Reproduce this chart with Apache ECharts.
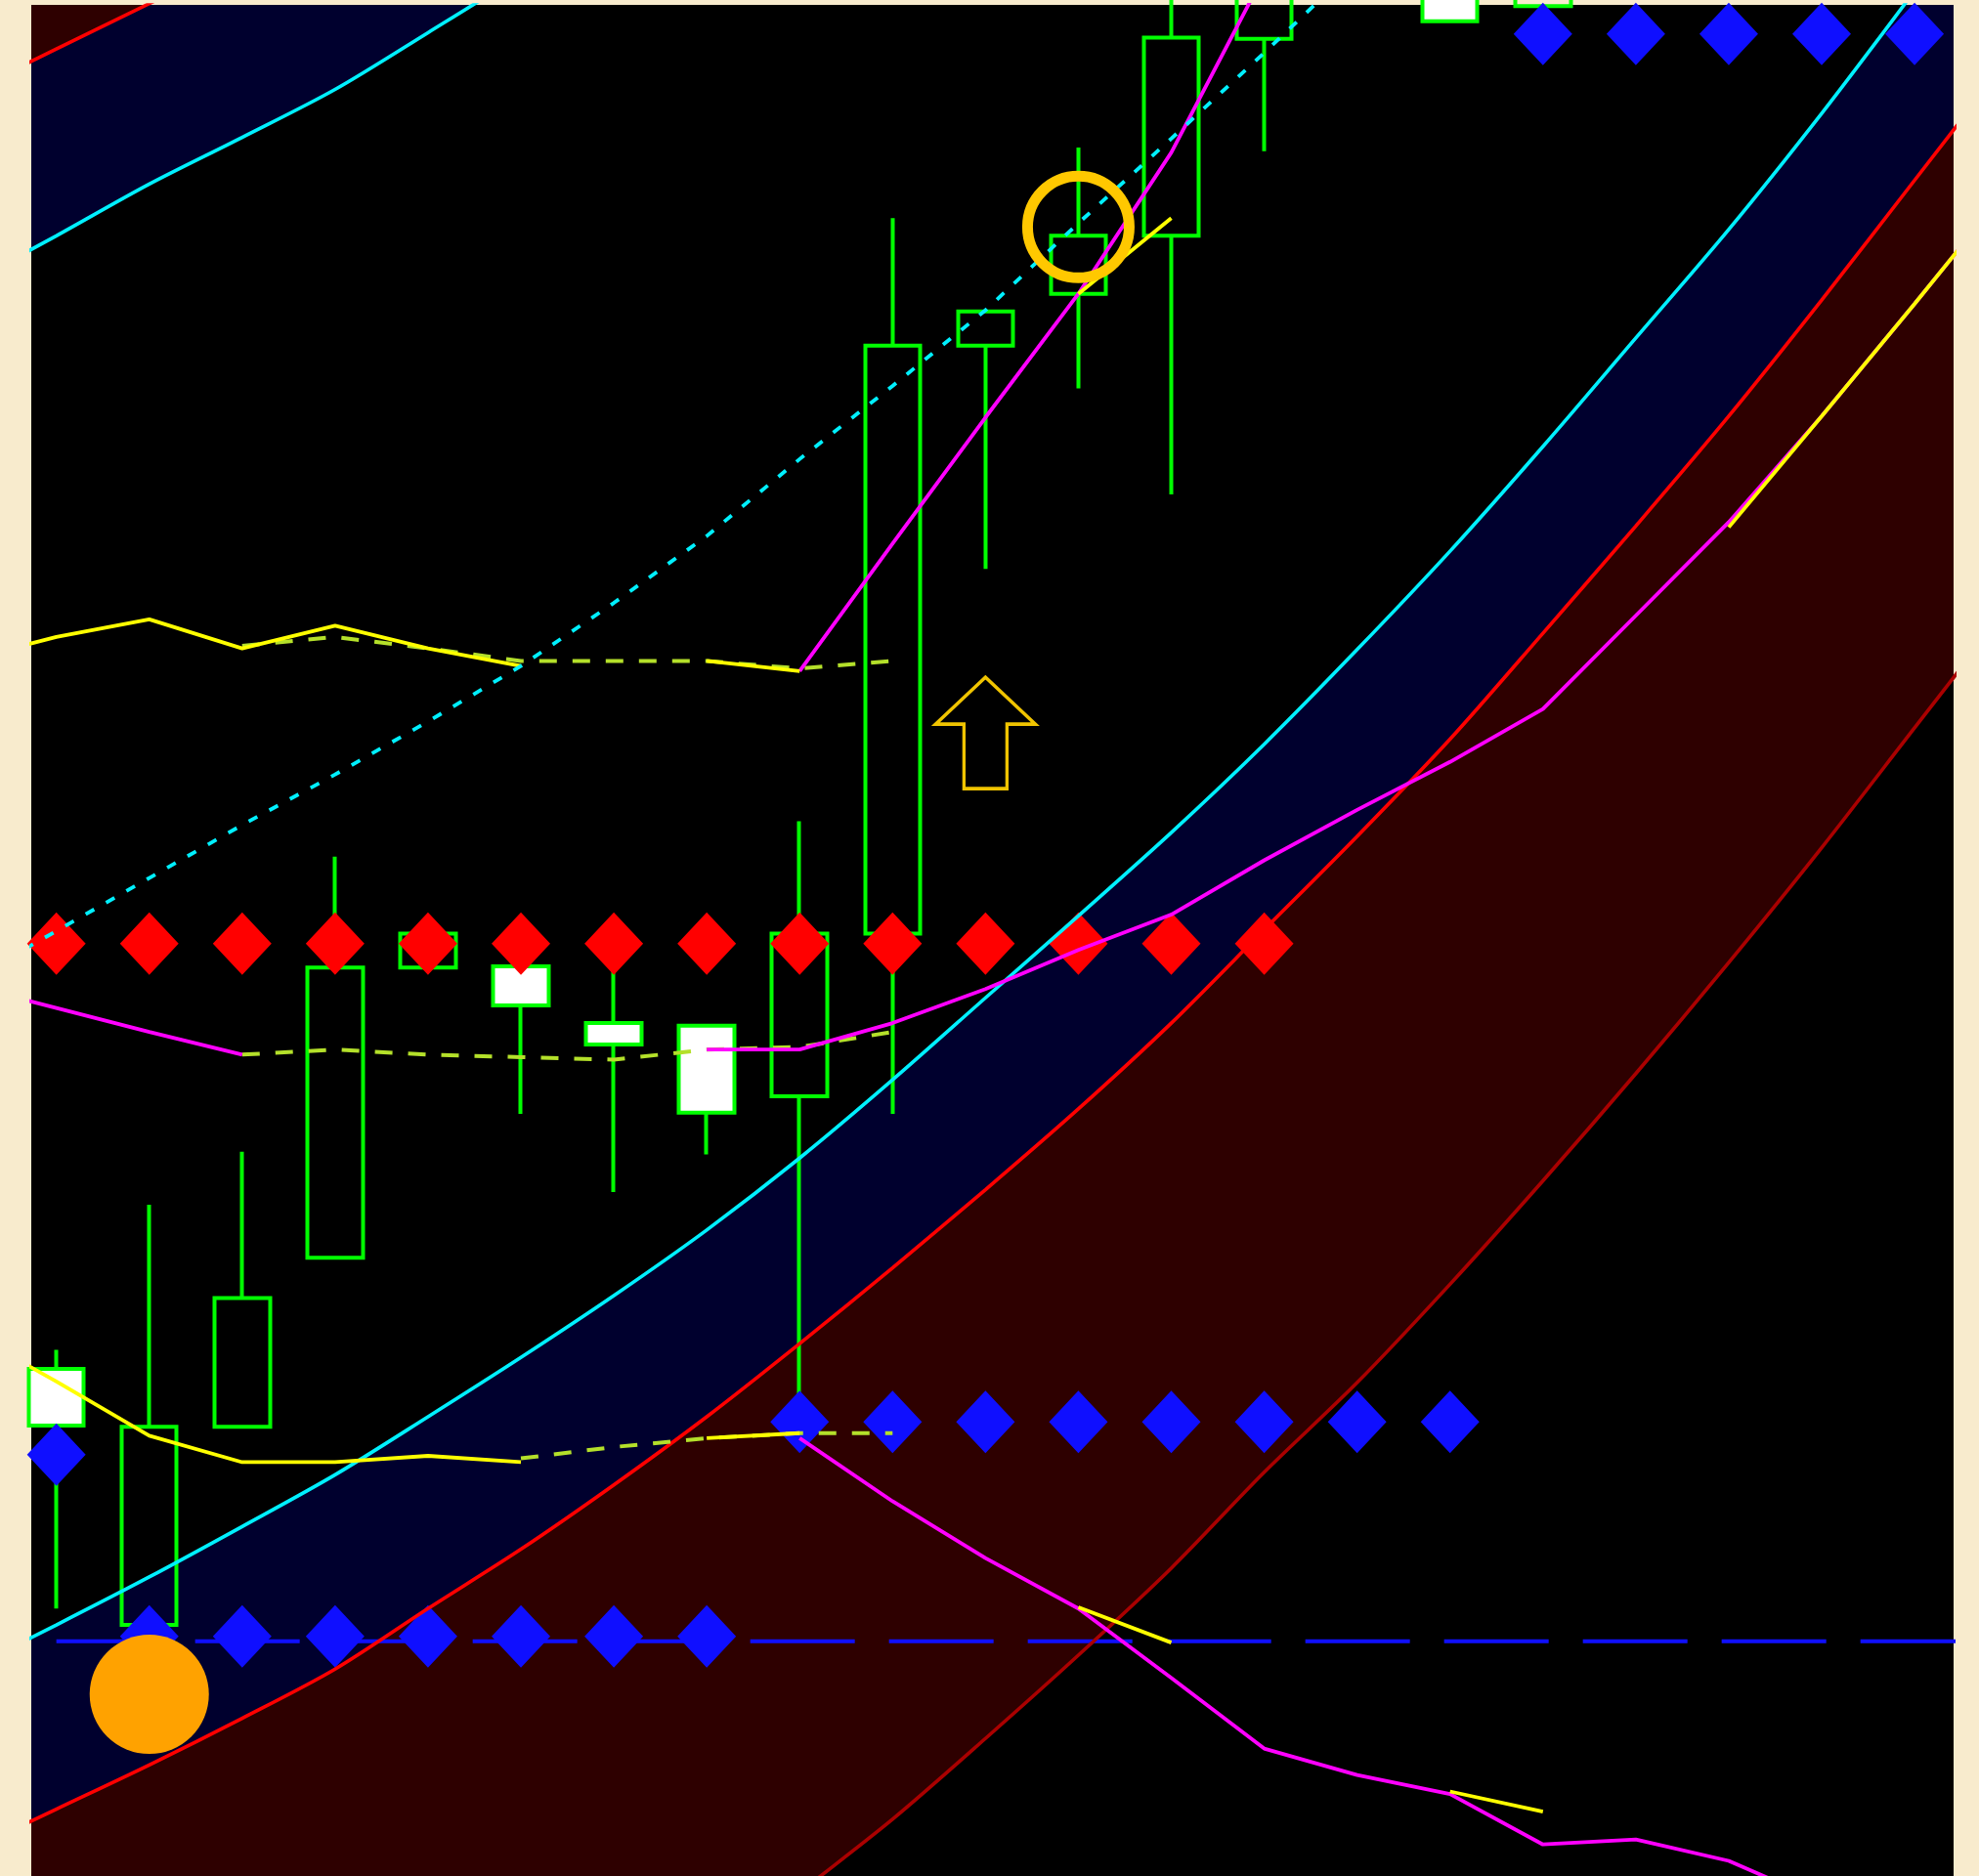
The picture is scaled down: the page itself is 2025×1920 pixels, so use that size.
<!DOCTYPE html>
<html>
<head>
<meta charset="utf-8">
<title>chart</title>
<script src="https://cdn.jsdelivr.net/npm/echarts@6/dist/echarts.min.js"></script>
<style>
  html, body { margin: 0; padding: 0; background: #f8ebcd; }
  #chart { width: 2025px; height: 1920px; }
</style>
</head>
<body>
<div id="chart"></div>
<script>
// 柱序号 (bar -1 and 21 only extend the lines past the plot edges)
var bars = [-1, 0, 1, 2, 3, 4, 5, 6, 7, 8, 9, 10, 11, 12, 13, 14, 15, 16, 17, 18, 19, 20, 21];

// K线 [bar, open, close, low, high]
var candles = [
  [0, 402, 357, 212, 417],
  [1, 199, 356, 199, 532],
  [2, 356, 458, 356, 574],
  [3, 490, 720, 490, 808],
  [4, 720, 747, 720, 760],
  [5, 721, 690, 604, 721],
  [6, 676, 659, 542, 720],
  [7, 674, 605, 572, 674],
  [8, 618, 747, 377, 836],
  [9, 747, 1213, 604, 1314],
  [10, 1213, 1240, 1036, 1240],
  [11, 1254, 1300, 1179, 1370],
  [12, 1300, 1457, 1095, 1507],
  [13, 1456, 1547, 1367, 1600],
  [14, 1560, 1620, 1550, 1660],
  [15, 1560, 1470, 1470, 1580],
  [16, 1482, 1540, 1482, 1560]
];

// 通道线
var cyanHigh = [1260, 1300, 1341, 1378, 1416, 1461, 1507, 1557, 1612, null, null, null, null, null, null, null, null, null, null, null, null, null, null];
var redHigh = [1412, 1448, 1484, 1520, 1557, null, null, null, null, null, null, null, null, null, null, null, null, null, null, null, null, null, null];
var cyanLow = [162, 199, 237, 277, 318, 364, 411, 460, 512, 569, 631, 696, 761, 827, 897, 972, 1050, 1133, 1219, 1305, 1397, 1494, 1592];
var redMid = [18, 53, 88, 125, 164, 212, 259, 310, 364, 422, 482, 544, 608, 676, 750, 824, 901, 985, 1070, 1157, 1249, 1344, 1439];
var darkRedLow = [-513, -458, -403, -348, -293, -238, -183, -128, -72, -13, 45, 109, 175, 244, 320, 391, 469, 551, 636, 724, 815, 910, 1005];
var cyanDots = [707, 749, 791, 833, 873, 915, 959, 1009, 1062, 1123, 1181, 1241, 1310, 1377, 1445, 1515, 1587, null, null, null, null, null, null];

// 止损线
var yellowHigh = [963, 982, 996, 973, 991, 973, 959, null, 963, 955, null, null, 1254, 1314, null, null, null, null, null, null, null, null, null];
var gyHigh = [null, null, null, 975, 982, 973, 963, 963, 963, 957, 963, null, null, null, null, null, null, null, null, null, null, null, null];
var magentaHigh = [null, null, null, null, null, null, null, null, null, 955, 1056, 1156, 1254, 1366, 1507, 1650, null, null, null, null, null, null, null];
var magentaMid = [707, 688, 669, 651, null, null, null, null, 655, 655, 676, 703, 734, 762, 805, 845, 883, 925, 999, 1073, 1157, 1246, 1337];
var gyMid = [null, null, null, 651, 655, 651, 649, 647, 655, 657, 669, null, null, null, null, null, null, null, null, null, null, null, null];
var yellowMid = [null, null, null, null, null, null, null, null, null, null, null, null, null, null, null, null, null, null, null, 1069, 1157, 1246, 1337];
var yellowLow = [433, 392, 349, 328, 328, 333, 328, null, 347, 351, null, null, 213, 185, null, null, 67, 51, null, null, null, null, null];
var gyLow = [null, null, null, null, null, null, 331, 340, 347, 351, 351, null, null, null, null, null, null, null, null, null, null, null, null];
var magentaLow = [null, null, null, null, null, null, null, null, null, 347, 297, 252, 212, 157, 101, 80, 65, 25, 29, 12, -20, -43, -60];

// 菱形信号
var redDiamondBars = [0, 1, 2, 3, 4, 5, 6, 7, 8, 9, 10, 11, 12, 13];
var redDiamondVals = [739, 739, 739, 739, 739, 739, 739, 739, 739, 739, 739, 739, 739, 739];
var blueDiamondBars = [0, 1, 2, 3, 4, 5, 6, 7, 8, 9, 10, 11, 12, 13, 14, 15, 16, 17, 18, 19, 20];
var blueDiamondVals = [334, 190, 190, 190, 190, 190, 190, 190, 360, 360, 360, 360, 360, 360, 360, 360, 1460, 1460, 1460, 1460, 1460];
var stopLevel = 186;

// 其它标记
var orangeDot = [1, 144];
var goldRing = [11, 1307];
var upArrow = [10, 906];

function pairs (vals) {
  var out = [];
  for (let i = 0; i < bars.length; i++) {
    out.push([bars[i], vals[i] == null ? '-' : vals[i]]);
  }
  return out;
}

function zip (xs, ys) {
  var out = [];
  for (let i = 0; i < xs.length; i++) {
    out.push([xs[i], ys[i]]);
  }
  return out;
}

// 背景填充
function bandSeries (vals, color, origin) {
  return {
    type: 'line', z: 1, silent: true, symbol: 'none', smooth: 0.3, data: pairs(vals),
    lineStyle: {width: 0, opacity: 0},
    areaStyle: {color: color, opacity: 1, origin: origin}
  };
}

function lineSeries (vals, color, width, dash, smooth) {
  return {
    type: 'line', z: 4, silent: true, symbol: 'none', smooth: smooth || false, data: pairs(vals),
    lineStyle: {color: color, width: width, type: dash || 'solid', cap: 'butt'}
  };
}

var CYAN = '#00f0ff';
var YELLOW = '#ffff00';
var MAGENTA = '#ff00ff';
var GREENYELLOW = '#b4e02a';

var option = {
  backgroundColor: '#f8ebcd',
  animation: false,
  grid: {left: 32, right: 26, top: 5, bottom: 0, show: true, backgroundColor: '#000000', borderWidth: 0},
  xAxis: {type: 'value', min: -0.27, max: 20.42, show: false},
  yAxis: {type: 'value', min: 0, max: 1483, show: false},
  series: [
    bandSeries(cyanHigh, '#00002e', 'end'),
    bandSeries(redHigh, '#2e0000', 'end'),
    bandSeries(cyanLow, '#00002e', 'start'),
    bandSeries(redMid, '#2e0000', 'start'),
    bandSeries(darkRedLow, '#000000', 'start'),
    {
      type: 'candlestick', z: 2, silent: true, barWidth: 57,
      data: candles,
      itemStyle: {color: 'transparent', color0: '#ffffff', borderColor: '#00ff00', borderColor0: '#00ff00', borderWidth: 4}
    },
    {
      type: 'scatter', z: 3, silent: true, symbol: 'diamond', symbolSize: [60, 64],
      data: zip(redDiamondBars, redDiamondVals),
      itemStyle: {color: '#ff0000', opacity: 1}
    },
    {
      type: 'scatter', z: 3, silent: true, symbol: 'diamond', symbolSize: [60, 64],
      data: zip(blueDiamondBars, blueDiamondVals),
      itemStyle: {color: '#0f0fff', opacity: 1}
    },
    {
      type: 'line', z: 3, silent: true, symbol: 'none',
      data: [[0, stopLevel], [21, stopLevel]],
      lineStyle: {color: '#0f0fff', width: 4, type: [107, 35], cap: 'butt'}
    },
    lineSeries(cyanHigh, CYAN, 3.6, null, 0.3),
    lineSeries(redHigh, '#ff0000', 3.6, null, 0.3),
    lineSeries(cyanLow, CYAN, 3.6, null, 0.3),
    lineSeries(redMid, '#ff0000', 3.6, null, 0.3),
    lineSeries(darkRedLow, '#aa0000', 3.6, null, 0.3),
    lineSeries(gyHigh, GREENYELLOW, 4, [18, 16]),
    lineSeries(gyMid, GREENYELLOW, 4, [18, 16]),
    lineSeries(gyLow, GREENYELLOW, 4, [18, 16]),
    lineSeries(magentaHigh, MAGENTA, 3.8),
    lineSeries(magentaMid, MAGENTA, 3.8),
    lineSeries(magentaLow, MAGENTA, 3.8),
    lineSeries(yellowHigh, YELLOW, 3.8),
    lineSeries(yellowMid, YELLOW, 3.8),
    lineSeries(yellowLow, YELLOW, 3.8),
    lineSeries(cyanDots, CYAN, 3.8, [10, 14]),
    {
      type: 'scatter', z: 5, silent: true, symbol: 'circle', symbolSize: 122,
      data: [orangeDot],
      itemStyle: {color: '#ffa200', opacity: 1}
    },
    {
      type: 'scatter', z: 5, silent: true, symbol: 'circle', symbolSize: 104,
      data: [goldRing],
      itemStyle: {color: 'none', borderColor: '#ffc800', borderWidth: 11, opacity: 1}
    },
    {
      type: 'scatter', z: 5, silent: true,
      symbol: 'path://M51,0L102,48L73,48L73,114L29,114L29,48L0,48Z', symbolSize: [102, 114],
      data: [upArrow],
      itemStyle: {color: 'none', borderColor: '#f0c400', borderWidth: 3.5, opacity: 1}
    }
  ]
};

var chart = echarts.init(document.getElementById('chart'));
chart.setOption(option);
</script>
</body>
</html>
